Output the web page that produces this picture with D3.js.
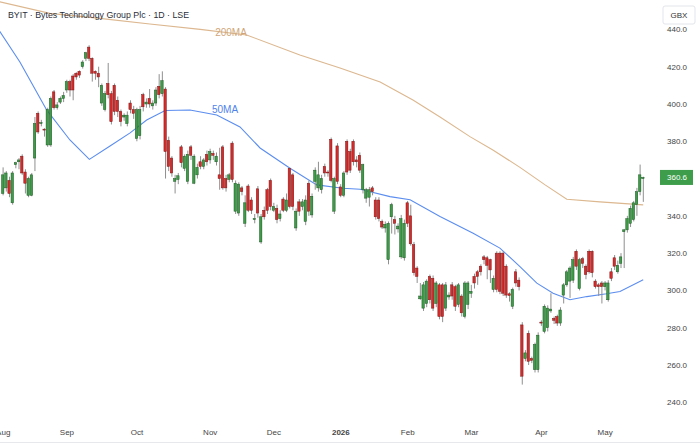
<!DOCTYPE html>
<html>
<head>
<meta charset="utf-8">
<script src="https://cdn.jsdelivr.net/npm/d3@7"></script>
<style>
  body { margin: 0; background: #fff; }
  svg { display: block; font-family: "Liberation Sans", Arial, sans-serif; }
</style>
</head>
<body>
<div id="chart"></div>
<script>
const svgWidth = 700, svgHeight = 445;

// daily candles, 1 Aug 2025 .. 20 May 2026 (LSE trading days)
const holidays = ["2025-08-25", "2025-12-25", "2025-12-26", "2026-01-01", "2026-04-03", "2026-04-06", "2026-05-04"];

const opens = [352,355,359,347,367.5,369,372,363.5,351,351, 371,395,389.5,386.5,378,378,406.5,398,401,403,
  407.5,412,415,416.5,417.5,420,424.5,430.5,424.5,417.5, 416.5,400.5,397,411,405.5,410,402,396,393,389.5,
  400.5,397,381.5,383,405,400,403,399,400.5,409.5, 405.5,408,380.5,371,358.5,359.5,377,365.5,358.5,377,
  357.5,362,369,366.5,373,370,373.5,369,362,377, 360,359.5,379,342.5,341.5,355,336,356,348.5,338,
  354.5,326,343,354,359,343,344,338.5,349,343, 365.5,362,333.5,347.5,345,337,357.5,340.5,358.5,355,
  354,366.5,363.5,381,342.5,377.5,355.5,351,380,374.5, 380,370,372.5,354,349.5,350,355,348.5,348.5,337,
  333.5,316.5,339.5,338,333,318,317.5,347,340,324.5, 312,295.5,290.5,293,307.5,306.5,293,303,303,290.5,
  296.5,303,302,292.5,297,286,292.5,298.5,307.5,310, 313,318,317.5,316.5,300.5,320,320,320,313,298.2,
  291.5,310,305.5,281.5,263.5,277,263.5,257.5,257.5,283, 278,280,289,285,286,282.5,297.5,303,305,305.5,
  321,301,317,313,321,321,305,303,304,302, 295,310,317.5,310,314.5,331.5,332.5,336,338,346,
  353,360];
const highs = [366,364,361,364,369,371,373,365,361,363, 393,396,391.5,387,398,404,407.5,401,404,406.5,
  413,413,416,417,418,423.5,428,431.5,425,418, 420,411,407,422,407,411,404,397,395,396,
  402,399,398,399,406,403,408,402,409,416, 417.5,409,382.5,372,362,363,378,373,375,378,
  373,368,372,371,375,376,375,374,376.5,378, 362,363,380,359,358,356,351,357,350,341,
  356,341,345,355,360,347,346,343,350,352, 366,363,344,349,349,351,359,352,366,369,
  362,368,364.5,382,361,379,357,364,381,376, 381,372,374,368,355,355.5,356,350,350,338,
  337,337,347,340,336,340.5,338,348,346,326, 313,304,304.5,306,308.5,308,305,304,304,304.5,
  299,304.5,303,304,298,305,305,303,309,311, 314,319,318.5,317,308,321,321,321,314,299,
  301.5,311.5,307,283,268,278.5,264.5,272,277.5,284, 292.5,292,298.5,286,287,291,304,311,313,318,
  322,317.5,318,314,322,321.5,306,304,305,305, 305.5,312,319,316,320,333,340,345.5,348,355,
  367.5,361];
const lows = [351,353,350,346,365.5,365,362,352,350,350.5, 364,384,388,382.5,377,377,397,397,400,401,
  406,404,402,413,414,419,423,423,412,413, 409,399,396,403,389,394,393,388,391,388,
  395,392,380,381,396,398,398,397,399,403, 404,360,364,361,352,357,366,364,357,370,
  357,360,365,365,367,368,370,367,354,354, 353,358,358,341,340,351,334,342,341,336,
  339,325,338,341,343,342,336,337,342,342, 344,343,332,340,343,335,340,339,354,353,
  352,361,361,358,341,357,350,350,362,363, 367,366,363,352,347,345,351,338,337,333,
  331,314,330.5,330,331,317,316,334,324,308, 304,295,289,291,293,289,291,284.5,283,289,
  295,295,289,291,286,285,290,296,301,303, 308,314,306,304,299,299,298,297,296,294,
  290,302,300,249.5,262,260,261,256,256,281, 277,278,288,282,281,281,293,302,296,304,
  311,300,312,306,309,307,301,297,293,300, 294,305,311,309,312,312,331,334,337,340,
  351,347.5];
const closes = [362,363,352,363,368.5,370,363,357.5,360,362, 389.5,385,390,386,397,403,398,399.5,403,404.5,
  412,407.5,407.5,414.5,415.5,422.5,427.5,424.5,416.5,416.5, 414.5,410,405.5,405,390.5,396,396,390.5,394,394,
  397,395,397,397,398.5,401,400,400.5,407.5,405, 412.5,374.5,366.5,363,360,361.5,368.5,372,373,372.5,
  372,366,366.5,370,369,374.5,372.5,372,360,355, 355,362,359.5,357.5,357,353,347,343,343,338.5,
  341.5,339.5,339.5,343,345,345,338,341,343,348.5, 345,345,342.5,342.5,347.5,348.5,342.5,350.5,364.5,362,
  360,363,363,359,360,358.5,351,363,363.5,364.5, 369,369,364.5,367.5,354,354,353,339.5,338.5,334,
  335.5,336,346,336,334.5,338.5,336,336,325,309.5, 307.5,297,303,305,295,290.5,304,286,286,303,
  297.5,297,291.5,303,288,304,304,299.5,304,307.5, 310,316.5,313.5,311,306.5,300.5,299.5,298.5,297.5,297.3,
  300.5,304,302,254,266.5,262,262.5,271,276,282.5, 291.5,290.5,290,284,282.5,289.5,303,310,312,316.5,
  313,316.5,314.5,308.5,310,309.5,302,302,302,304, 304,306.5,313,313.5,318,332.5,338.5,344,347,353,
  362,360.6];

// moving averages: [trading-day index, price]
const ma50 = [[-1,439.1],[5.4,422.5],[13.8,396.8],[21.1,380.7],[27.2,370.3],[33.7,377.5],[40,384.5],[45.2,391.4],
  [51,396.5],[58.8,396.8],[67.2,394.1],[74.5,387.7],[80.8,376.4],[90.2,365.5],[98.6,356.6],[106.8,354.8],
  [112.2,354.3],[121.6,350.3],[127.9,348.6],[137.3,339.6],[147.7,330.7],[156.1,322.7],[162.4,312.8],
  [167.7,303.9],[172.8,298.5],[178.1,295],[183.4,296.7],[189.6,298.2],[193.8,299.4],[201.1,305.7]];
const ma200 = [[-1,454.8],[14.8,448.6],[30.5,445.9],[46.2,442.9],[62,440],[76.6,437],[93.3,426.3],
  [105.9,419.3],[118.5,411.8],[128.8,402.1],[137.3,393],[146.7,382.5],[153.9,375.3],[162.4,366],
  [170.3,356.6],[177.1,348.9],[187.5,347.5],[201.1,345.9]];

const monthLabels = ["Aug", "Sep", "Oct", "Nov", "Dec", "2026", "Feb", "Mar", "Apr", "May"];
const priceTicks = [240, 260, 280, 300, 320, 340, 360, 380, 400, 420, 440];
const lastPrice = 360.6;

// trading calendar
const fmt = d3.timeFormat("%Y-%m-%d");
const dates = d3.timeDay.range(new Date(2025, 7, 1), new Date(2026, 4, 21))
    .filter(d => d.getDay() != 0 && d.getDay() != 6 && !holidays.includes(fmt(d)));
const data = dates.map((d, i) => ({date: d, o: opens[i], h: highs[i], l: lows[i], c: closes[i]}));
const monthIdx = [];
dates.forEach((d, i) => { if (i == 0 || d.getMonth() != dates[i - 1].getMonth()) monthIdx.push(i); });

const svg = d3.select('#chart')
    .append('svg')
    .attr('width', svgWidth)
    .attr('height', svgHeight);

// scales
const xScale = d3.scaleLinear()
    .domain([0, dates.length - 1])
    .range([2.7, 642.9]);

const yScale = d3.scaleLinear()
    .domain([240, 440])
    .range([402.3, 29.4]);

svg.append('clipPath').attr('id', 'plot-clip')
    .append('rect').attr('x', 0).attr('y', 0).attr('width', 655).attr('height', 418);

const plot = svg.append('g').attr('clip-path', 'url(#plot-clip)');

// moving averages
const line = d3.line().x(d => xScale(d[0])).y(d => yScale(d[1]));
plot.append('path').datum(ma200)
    .attr('d', line).attr('fill', 'none')
    .attr('stroke', '#dcb78f').attr('stroke-width', 1.1);
plot.append('path').datum(ma50)
    .attr('d', line).attr('fill', 'none')
    .attr('stroke', '#5b8def').attr('stroke-width', 1.1);

// candles
const candles = plot.selectAll('g.candle')
    .data(data)
    .join('g')
    .attr('class', 'candle');

candles.append('line')
    .attr('x1', (d, i) => xScale(i) + 0.4)
    .attr('x2', (d, i) => xScale(i) + 0.4)
    .attr('y1', d => yScale(d.h))
    .attr('y2', d => yScale(d.l))
    .attr('stroke', '#8f8f8f')
    .attr('stroke-width', 1);

candles.append('rect')
    .attr('x', (d, i) => xScale(i) - 1.2)
    .attr('width', 2.4)
    .attr('y', d => yScale(Math.max(d.o, d.c)))
    .attr('height', d => Math.max(0.8, Math.abs(yScale(d.o) - yScale(d.c))))
    .attr('fill', d => d.c >= d.o ? '#3e9b48' : '#d42b2b')
    .attr('stroke', d => d.c >= d.o ? '#1d5a24' : '#7a1818')
    .attr('stroke-width', 0.5);

// MA labels
svg.append('text').attr('x', 231).attr('y', 36)
    .attr('text-anchor', 'middle').attr('font-size', 10)
    .attr('fill', '#d0a678').text('200MA');
svg.append('text').attr('x', 225).attr('y', 113)
    .attr('text-anchor', 'middle').attr('font-size', 10)
    .attr('fill', '#4f83ea').text('50MA');

// title
svg.append('text').attr('x', 8).attr('y', 18)
    .attr('font-size', 8.8).attr('fill', '#2a2e39')
    .text('BYIT · Bytes Technology Group Plc · 1D · LSE');

// y axis
const yAxis = svg.append('g')
    .attr('transform', 'translate(677,0)')
    .call(d3.axisRight(yScale).tickValues(priceTicks).tickFormat(d3.format('.1f')).tickSize(0).tickPadding(0));
yAxis.select('.domain').remove();
yAxis.selectAll('text')
    .attr('text-anchor', 'middle')
    .attr('font-size', 8)
    .attr('fill', '#444')
    .attr('font-family', '"Liberation Sans", Arial, sans-serif');

// currency box covering the top label
svg.append('rect').attr('x', 658).attr('y', 0).attr('width', 42).attr('height', 27).attr('fill', '#fff');
svg.append('rect').attr('x', 663).attr('y', 6).attr('width', 32).attr('height', 18)
    .attr('rx', 2).attr('fill', '#fff').attr('stroke', '#e3e5ea');
svg.append('text').attr('x', 679).attr('y', 18).attr('text-anchor', 'middle')
    .attr('font-size', 8).attr('fill', '#333').text('GBX');

// last price badge
svg.append('rect').attr('x', 660).attr('y', yScale(lastPrice) - 7.5)
    .attr('width', 33).attr('height', 15).attr('fill', '#3d9d4a');
svg.append('text').attr('x', 677).attr('y', yScale(lastPrice) + 3)
    .attr('text-anchor', 'middle').attr('font-size', 8).attr('fill', '#fff')
    .text(d3.format('.1f')(lastPrice));

// x axis
const xAxis = svg.append('g')
    .attr('transform', 'translate(0,429)')
    .call(d3.axisBottom(xScale).tickValues(monthIdx).tickFormat((d, i) => monthLabels[i]).tickSize(0).tickPadding(0));
xAxis.select('.domain').remove();
xAxis.selectAll('text')
    .attr('font-size', 8)
    .attr('fill', '#444')
    .attr('font-weight', (d, i) => monthLabels[i] == '2026' ? 'bold' : null)
    .attr('font-family', '"Liberation Sans", Arial, sans-serif');

svg.append('line').attr('x1', 0).attr('x2', svgWidth).attr('y1', 442.5).attr('y2', 442.5)
    .attr('stroke', '#e6e8ec');
</script>
</body>
</html>
